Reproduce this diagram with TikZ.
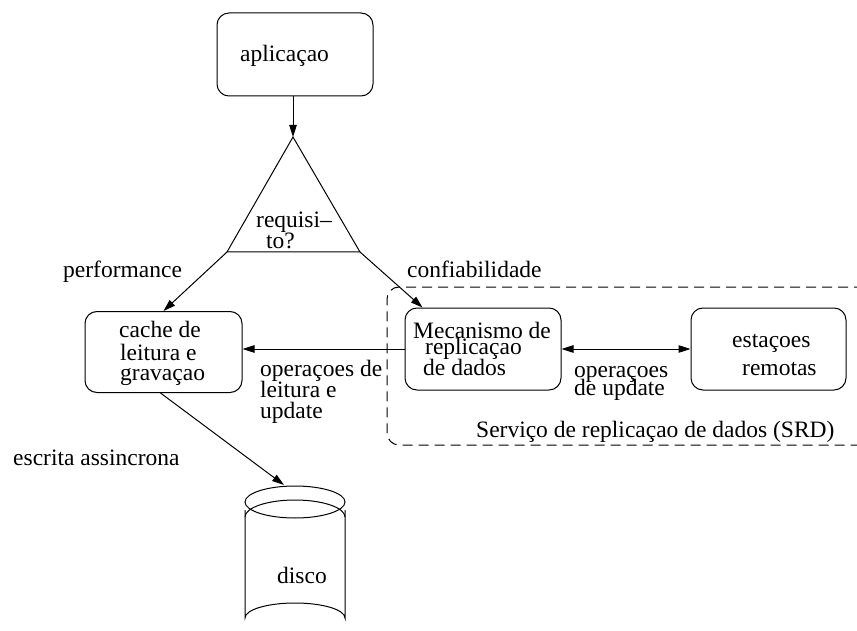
\documentclass[tikz,border=0pt]{standalone}
\usepackage{fontspec}
\setmainfont{Liberation Serif}
\usetikzlibrary{arrows.meta}
\tikzset{
  box/.style={draw, line width=1pt, rounded corners=12pt, minimum width=#1, inner sep=0pt},
  lbl/.style={inner sep=0pt, anchor=base west, font=\fontsize{23.5}{23.5}\selectfont},
  arr/.style={line width=1pt, -{Triangle[length=12pt,width=7.5pt]}},
  darr/.style={line width=1pt, {Triangle[length=12pt,width=7.5pt]}-{Triangle[length=12pt,width=7.5pt]}},
  ln/.style={line width=1pt},
}
\begin{document}
\begin{tikzpicture}[x=1pt,y=-1pt]
\useasboundingbox (0,0) rectangle (857,631);

% boxes
\node[box=156pt, minimum height=83pt] (app) at (295,54.5) {};
\node[box=157pt, minimum height=81pt] (cache) at (163.5,352) {};
\node[box=156pt, minimum height=82pt] (mec) at (483,349) {};
\node[box=155pt, minimum height=82pt] (est) at (768.5,349) {};

% decision triangle
\coordinate (apex) at (293,137);
\coordinate (bl) at (227,252);
\coordinate (br) at (360,252);
\draw[ln, line join=miter] (apex) -- (bl) -- (br) -- cycle;

% replication service region, open to the right
\draw[ln, dash pattern=on 10pt off 6pt, rounded corners=12pt]
  (880,287) -- (387,287) -- (387,445) -- (880,445);

% disk
\coordinate (dc) at (295,502);
\draw[ln] (dc) ellipse [x radius=50, y radius=16];
\draw[ln] (245,517) arc [start angle=180, end angle=360, x radius=50, y radius=17];
\draw[ln] (245,510) -- (245,618) arc [start angle=180, end angle=360, x radius=50, y radius=15] -- (345,510);
\coordinate (dtip) at (284,485);

% texts
\node[lbl] (tapp) at (240,62) {aplicaçao};
\node[lbl] (treq1) at (256,228) {requisi–};
\node[lbl] (treq2) at (266,248) {to?};
\node[lbl] (tperf) at (63,277) {performance};
\node[lbl] (tconf) at (407,277) {confiabilidade};
\node[lbl] (tc1) at (119,337) {cache de};
\node[lbl] (tc2) at (120,360) {leitura e};
\node[lbl] (tc3) at (120,380) {gravaçao};
\node[lbl] (tm1) at (413,338) {Mecanismo de};
\node[lbl] (tm2) at (425,354) {replicaçao};
\node[lbl] (tm3) at (423,375) {de dados};
\node[lbl] (te1) at (732,347) {estaçoes};
\node[lbl] (te2) at (742,375) {remotas};
\node[lbl] (tol1) at (260,376) {operaçoes de};
\node[lbl] (tol2) at (260,397) {leitura e};
\node[lbl] (tol3) at (260,418) {update};
\node[lbl] (tou1) at (574,377) {operaçoes};
\node[lbl] (tou2) at (574,395) {de update};
\node[lbl] (tsrd) at (476,437) {Serviço de replicaçao de dados (SRD)};
\node[lbl] (tesc) at (13,465) {escrita assincrona};
\node[lbl] (tdisco) at (277,583) {disco};

% connectors
\draw[arr] (app.south -| apex) -- (apex);
\draw[arr] (bl) -- (cache.north);
\draw[arr] (br) -- ([xshift=18pt]mec.north west);
\draw[arr] (mec.west) -- (mec.west -| cache.east);
\draw[darr] (mec.east) -- (est.west);
\draw[arr] ([xshift=-3pt]cache.south) -- (dtip);
\end{tikzpicture}
\end{document}
